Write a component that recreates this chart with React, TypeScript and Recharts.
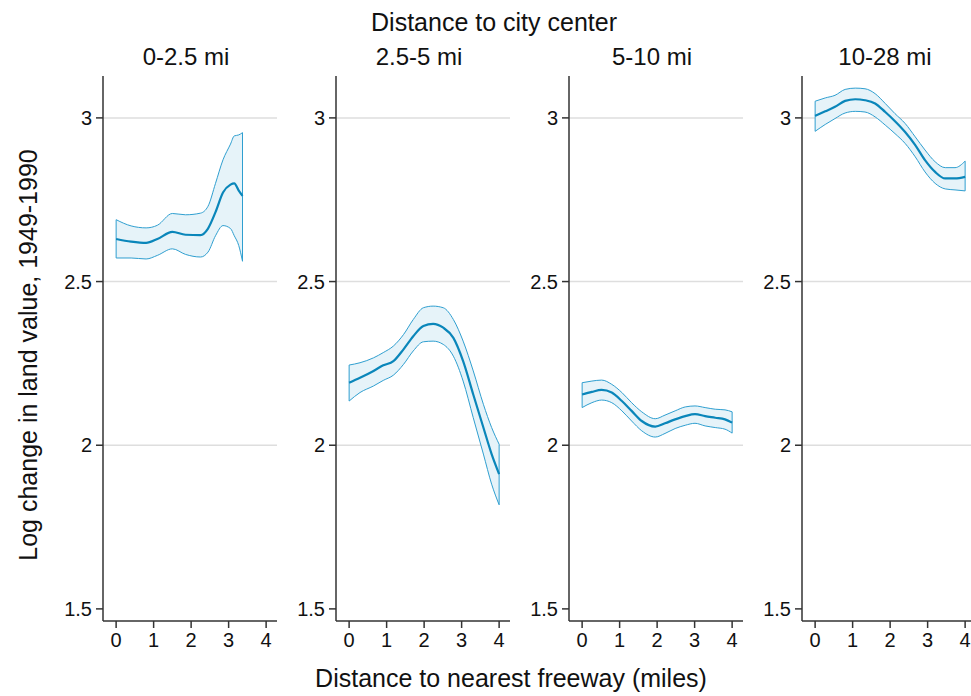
import React from 'react';
import { ComposedChart, Area, Line, XAxis, YAxis, CartesianGrid, ReferenceLine } from 'recharts';

// panel titles (distance to city center bands)
const PANEL_TITLES = ['0-2.5 mi', '2.5-5 mi', '5-10 mi', '10-28 mi'];

const X_TICKS = [0, 1, 2, 3, 4];
const Y_TICKS = [1.5, 2, 2.5, 3];
const GRID_VALUES = [2, 2.5, 3];

// 0-2.5 mi
const p1X = [0, 0.4, 0.8, 1.1, 1.5, 1.85, 2.25, 2.45, 2.65, 2.85, 3.05, 3.15, 3.27, 3.37];
const p1Mean = [2.630, 2.622, 2.618, 2.630, 2.652, 2.643, 2.642, 2.662, 2.712, 2.772, 2.796, 2.800, 2.778, 2.762];
const p1Hi = [2.689, 2.670, 2.664, 2.672, 2.708, 2.704, 2.709, 2.730, 2.800, 2.872, 2.920, 2.945, 2.948, 2.955];
const p1Lo = [2.572, 2.572, 2.569, 2.580, 2.600, 2.583, 2.575, 2.590, 2.640, 2.671, 2.662, 2.640, 2.610, 2.562];

// 2.5-5 mi
const p2X = [0, 0.29, 0.65, 0.91, 1.18, 1.45, 1.71, 1.98, 2.24, 2.51, 2.78, 3.04, 3.31, 3.58, 3.8, 4.0];
const p2Mean = [2.191, 2.206, 2.227, 2.244, 2.257, 2.293, 2.333, 2.364, 2.371, 2.359, 2.328, 2.257, 2.155, 2.054, 1.973, 1.912];
const p2Hi = [2.245, 2.252, 2.267, 2.283, 2.303, 2.338, 2.384, 2.420, 2.425, 2.420, 2.384, 2.318, 2.227, 2.125, 2.054, 2.003];
const p2Lo = [2.135, 2.161, 2.181, 2.198, 2.214, 2.247, 2.288, 2.316, 2.318, 2.308, 2.272, 2.196, 2.084, 1.973, 1.881, 1.818];

// 5-10 mi
const p3X = [0, 0.26, 0.52, 0.79, 1.06, 1.32, 1.59, 1.95, 2.21, 2.48, 2.75, 3.01, 3.28, 3.55, 3.81, 4.0];
const p3Mean = [2.155, 2.163, 2.169, 2.161, 2.135, 2.105, 2.074, 2.057, 2.067, 2.079, 2.089, 2.095, 2.089, 2.084, 2.079, 2.069];
const p3Hi = [2.191, 2.196, 2.199, 2.186, 2.161, 2.130, 2.102, 2.081, 2.092, 2.105, 2.117, 2.120, 2.115, 2.110, 2.108, 2.102];
const p3Lo = [2.115, 2.130, 2.138, 2.130, 2.105, 2.074, 2.044, 2.025, 2.036, 2.051, 2.061, 2.067, 2.059, 2.054, 2.049, 2.037];

// 10-28 mi
const p4X = [0, 0.27, 0.53, 0.8, 1.07, 1.33, 1.6, 1.87, 2.13, 2.4, 2.67, 2.93, 3.2, 3.47, 3.73, 4.0];
const p4Mean = [3.006, 3.020, 3.034, 3.052, 3.057, 3.054, 3.044, 3.018, 2.990, 2.957, 2.917, 2.871, 2.835, 2.815, 2.815, 2.820];
const p4Hi = [3.051, 3.061, 3.069, 3.087, 3.091, 3.089, 3.074, 3.044, 3.013, 2.983, 2.942, 2.902, 2.866, 2.848, 2.848, 2.868];
const p4Lo = [2.959, 2.980, 2.998, 3.015, 3.020, 3.018, 3.003, 2.978, 2.952, 2.922, 2.881, 2.835, 2.800, 2.783, 2.780, 2.777];

const PANELS = [
  { xs: p1X, mean: p1Mean, hi: p1Hi, lo: p1Lo },
  { xs: p2X, mean: p2Mean, hi: p2Hi, lo: p2Lo },
  { xs: p3X, mean: p3Mean, hi: p3Hi, lo: p3Lo },
  { xs: p4X, mean: p4Mean, hi: p4Hi, lo: p4Lo },
];

const FONT = '"Liberation Sans", Arial, sans-serif';
const AXIS_COLOR = '#333';
const BAND_STROKE = '#2f9fd0';
const BAND_FILL = '#e6f3f9';
const MEAN_COLOR = '#0a86ba';
const TICK_FONT = 20;

const Y_AXIS_W = 70;
const PLOT_W = 174;
const PANEL_STEP = 233;
const FIRST_AXIS = 103;

// custom ticks so the font size actually sticks
const XTick = ({ x, y, payload }: any) => (
  <text x={x} y={y} dy="0.71em" textAnchor="middle" fontSize={TICK_FONT} fontFamily={FONT} fill="#111">
    {payload.value}
  </text>
);
const YTick = ({ x, y, payload }: any) => (
  <text x={x} y={y} dy="0.36em" textAnchor="end" fontSize={TICK_FONT} fontFamily={FONT} fill="#111">
    {payload.value}
  </text>
);

function Panel({ xs, mean, hi, lo, left }: any) {
  const data = xs.map((x: number, i: number) => ({ x, mean: mean[i], band: [lo[i], hi[i]] }));
  const last = xs.length - 1;
  return (
    <div style={{ position: 'absolute', left: left - Y_AXIS_W, top: 0 }}>
      <ComposedChart
        width={Y_AXIS_W + PLOT_W + 10}
        height={696}
        data={data}
        margin={{ top: 76, right: 10, bottom: 35, left: 0 }}
      >
        <CartesianGrid vertical={false} horizontalValues={GRID_VALUES} stroke="#dedede" strokeWidth={1.5} />
        <XAxis
          dataKey="x"
          type="number"
          domain={[-0.35, 4.29]}
          ticks={X_TICKS}
          interval={0}
          allowDataOverflow
          height={40}
          axisLine={{ stroke: AXIS_COLOR, strokeWidth: 1.5 }}
          tickLine={{ stroke: AXIS_COLOR, strokeWidth: 1.5 }}
          tickSize={7}
          tickMargin={5}
          tick={<XTick />}
        />
        <YAxis
          type="number"
          domain={[1.463, 3.128]}
          ticks={Y_TICKS}
          interval={0}
          allowDataOverflow
          width={Y_AXIS_W}
          axisLine={{ stroke: AXIS_COLOR, strokeWidth: 1.5 }}
          tickLine={{ stroke: AXIS_COLOR, strokeWidth: 1.5 }}
          tickSize={7}
          tickMargin={4}
          tick={<YTick />}
        />
        <Area
          dataKey="band"
          type="monotone"
          stroke={BAND_STROKE}
          strokeWidth={1}
          fill={BAND_FILL}
          fillOpacity={1}
          isAnimationActive={false}
        />
        <ReferenceLine
          segment={[{ x: xs[0], y: lo[0] }, { x: xs[0], y: hi[0] }]}
          stroke={BAND_STROKE}
          strokeWidth={1}
        />
        <ReferenceLine
          segment={[{ x: xs[last], y: lo[last] }, { x: xs[last], y: hi[last] }]}
          stroke={BAND_STROKE}
          strokeWidth={1}
        />
        <Line
          dataKey="mean"
          type="monotone"
          stroke={MEAN_COLOR}
          strokeWidth={2.2}
          dot={false}
          isAnimationActive={false}
        />
      </ComposedChart>
    </div>
  );
}

export default function App() {
  return (
    <div
      style={{
        position: 'absolute',
        left: 0,
        top: 0,
        width: 971,
        height: 696,
        overflow: 'hidden',
        background: '#fff',
        fontFamily: FONT,
      }}
    >
      {PANELS.map((p, i) => (
        <Panel key={i} {...p} left={FIRST_AXIS + i * PANEL_STEP} />
      ))}
      <svg width={971} height={696} style={{ position: 'absolute', left: 0, top: 0, pointerEvents: 'none' }}>
        <text x={494} y={31} textAnchor="middle" fontSize={25} fontFamily={FONT} fill="#111">
          Distance to city center
        </text>
        {PANEL_TITLES.map((t, i) => (
          <text
            key={t}
            x={FIRST_AXIS + i * PANEL_STEP + 83}
            y={65}
            textAnchor="middle"
            fontSize={24}
            fontFamily={FONT}
            fill="#111"
          >
            {t}
          </text>
        ))}
        <text x={511} y={687} textAnchor="middle" fontSize={25} fontFamily={FONT} fill="#111">
          Distance to nearest freeway (miles)
        </text>
        <text
          x={37}
          y={355}
          textAnchor="middle"
          fontSize={25}
          fontFamily={FONT}
          fill="#111"
          transform="rotate(-90 37 355)"
        >
          Log change in land value, 1949-1990
        </text>
      </svg>
    </div>
  );
}
